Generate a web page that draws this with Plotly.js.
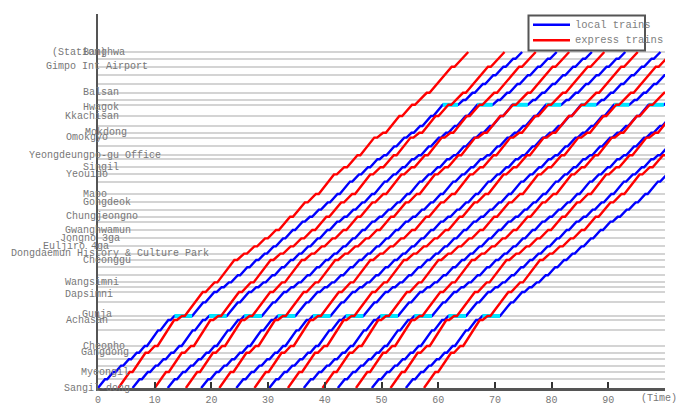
<!DOCTYPE html>
<html>
<head>
<meta charset="utf-8">
<script src="https://cdn.plot.ly/plotly-3.0.1.min.js"></script>
<style>html,body{margin:0;padding:0;background:#fff;}#chart{width:678px;height:409px;}</style>
</head>
<body>
<div id="chart"></div>
<script>
// Stations, bottom (Sangil-dong) to top (Banghwa), with position along the line
const stationNames = ["Sangil-dong","Godeok","Myeongil","Gubeundari","Gil-dong","Gangdong","Cheonho","Gwangnaru","Achasan","Gunja","Janghanpyeong","Dapsimni","Majang","Wangsimni","Haengdang","Singeumho","Cheonggu","Dongdaemun History & Culture Park","Euljiro 4ga","Jongno 3ga","Gwanghwamun","Seodaemun","Chungjeongno","Aeogae","Gongdeok","Mapo","Yeouinaru","Yeouido","Singil","Yeongdeungpo Market","Yeongdeungpo-gu Office","Yangpyeong","Omokgyo","Mokdong","Sinjeong","Kkachisan","Hwagok","Ubjangsan","Balsan","Magok","Songjeong","Gimpo Int Airport","Gaehwasan","Banghwa"];
const stationPos = [0,1.1,2.0,2.8,3.6,4.4,5.25,7.2,8.5,9.0,10.7,12.0,12.6,13.2,14.1,15.1,16.0,16.8,17.7,18.7,19.75,20.8,21.4,22.3,23.2,24.25,25.8,26.7,27.6,28.6,29.1,30.2,31.3,31.9,32.75,34.0,35.4,36.0,36.9,38.0,39.1,40.16,41.16,42.0];

// Local train timetable (minutes after departure): arrival / departure at every station
const localArr = [0,1.23,2.69,4.07,5.45,6.83,8.25,10.6,12.4,13.5,18.55,20.52,21.80,23.08,24.66,26.33,27.91,29.39,30.97,32.64,34.36,36.08,37.36,38.94,40.52,42.24,44.45,46.03,47.61,49.28,50.47,52.24,54.01,55.29,56.82,58.74,60.8,64.42,66.05,67.88,69.71,71.50,73.23,74.8];
const localDep = [0,1.63,3.09,4.47,5.85,7.23,8.65,11.0,12.8,16.6,18.95,20.92,22.20,23.48,25.06,26.73,28.31,29.79,31.37,33.04,34.76,36.48,37.76,39.34,40.92,42.64,44.85,46.43,48.01,49.68,50.87,52.64,54.41,55.69,57.22,59.14,63.5,64.82,66.45,68.28,70.11,71.90,73.63,74.8];

// Express train stops (also the labelled stations) and timetable
const expressStops = ["Sangil-dong","Myeongil","Gangdong","Cheonho","Achasan","Gunja","Dapsimni","Wangsimni","Cheonggu","Dongdaemun History & Culture Park","Euljiro 4ga","Jongno 3ga","Gwanghwamun","Chungjeongno","Gongdeok","Mapo","Yeouido","Singil","Yeongdeungpo-gu Office","Omokgyo","Mokdong","Kkachisan","Hwagok","Balsan","Gimpo Int Airport","Banghwa"];
const expressArr = [0,1.99,4.78,6.41,9.83,11.20,14.88,16.95,20.45,22.17,23.97,25.86,27.80,30.28,32.89,34.83,38.02,39.82,42.16,45.13,46.67,49.55,51.80,54.37,58.78,61.70];
const expressDep = [0,2.49,5.28,6.91,10.33,11.70,15.38,17.45,20.95,22.67,24.47,26.36,28.30,30.78,33.39,35.33,38.52,40.32,42.66,45.63,47.17,50.05,52.30,54.87,59.28,61.70];

// Departure times from Sangil-dong
const localStarts = [0,6.1,12.3,18.2,24.4,30.2,36.3,42.3,48.3,54.3];
const expressStarts = [3.6,10.0,15.5,21.4,27.6,33.5,39.6,45.5,51.6,57.5];

// Stations where local trains wait to be overtaken
const passingStations = ["Gunja","Hwagok"];

const xTicks = [0,10,20,30,40,50,60,70,80,90];
const legendNames = ["local trains","express trains"];

// --- styling: label pixel nudges as placed in the reference ---
const labelShiftX = {"Banghwa":5.5,"Gimpo Int Airport":-1,"Balsan":3,"Hwagok":3,"Kkachisan":-6,"Mokdong":7.5,"Omokgyo":-11,
  "Yeongdeungpo-gu Office":-3.5,"Singil":3,"Yeouido":-11.5,"Mapo":-3.5,"Gongdeok":9,"Chungjeongno":3.5,"Gwanghwamun":0,
  "Jongno 3ga":-8.5,"Euljiro 4ga":-22.5,"Dongdaemun History & Culture Park":11.5,"Cheonggu":9,"Wangsimni":-6,"Dapsimni":-9,
  "Gunja":-1,"Achasan":-11.5,"Cheonho":5.5,"Gangdong":7,"Myeongil":6.5,"Sangil-dong":-1.5};
const labelShiftY = {"Hwagok":-3,"Gunja":2,"Dapsimni":-2};

const posOf = {};
stationNames.forEach((n,i)=>{posOf[n]=stationPos[i];});

function buildTrains(starts, stops, arr, dep){
  const xs=[], ys=[];
  starts.forEach(s=>{
    stops.forEach((name,i)=>{
      xs.push(s+arr[i]); ys.push(posOf[name]);
      if(dep[i]!==arr[i]){ xs.push(s+dep[i]); ys.push(posOf[name]); }
    });
    xs.push(null); ys.push(null);
  });
  return {xs, ys};
}

const loc = buildTrains(localStarts, stationNames, localArr, localDep);
const exp = buildTrains(expressStarts, expressStops, expressArr, expressDep);

const cx=[], cy=[];
localStarts.forEach(s=>{
  passingStations.forEach(name=>{
    const i = stationNames.indexOf(name);
    cx.push(s+localArr[i], s+localDep[i], null);
    cy.push(stationPos[i], stationPos[i], null);
  });
});

const monoFont = "Liberation Mono, Courier New, monospace";
const BLUE='#0000ff', RED='#ff0000';

const traces = [
  {x:loc.xs, y:loc.ys, mode:'lines', name:legendNames[0], showlegend:false, line:{color:BLUE, width:2.4}, connectgaps:false, hoverinfo:'skip'},
  {x:cx, y:cy, mode:'lines', name:'wait', showlegend:false, line:{color:'#00e5ff', width:4}, connectgaps:false, hoverinfo:'skip'},
  {x:exp.xs, y:exp.ys, mode:'lines', name:legendNames[1], showlegend:false, line:{color:RED, width:2.4}, connectgaps:false, hoverinfo:'skip'}
];

const labelFont = {family:monoFont, size:10, color:'#777'};
const annotations = expressStops.map(name=>({
  x:0, y:posOf[name], xref:'x', yref:'y', text:name, showarrow:false,
  xanchor:'center', yanchor:'middle', xshift:labelShiftX[name]||0, yshift:labelShiftY[name]||0, font:labelFont
}));
annotations.push({x:0, y:posOf["Banghwa"], xref:'x', yref:'y', text:'(Station)', showarrow:false,
  xanchor:'center', yanchor:'middle', xshift:-19.5, font:labelFont});
annotations.push({x:98.9, y:0, xref:'x', yref:'paper', text:'(Time)', showarrow:false,
  xanchor:'center', yanchor:'top', yshift:-3, font:labelFont});

// Hand-drawn legend box (paper coordinates of the plot area: 98..665 px, 14..388 px)
const W=567, H=374, L=98, T=14;
const px=v=>(v-L)/W, py=v=>1-(v-T)/H;
const legendFont = {family:monoFont, size:10.5, color:'#808080'};
const shapes = [
  {type:'rect', xref:'paper', yref:'paper', x0:px(528.5), x1:px(645), y0:py(15.5), y1:py(50.5),
   fillcolor:'#fff', line:{color:'#555', width:2}, layer:'above'},
  {type:'line', xref:'paper', yref:'paper', x0:px(533), x1:px(570), y0:py(24.7), y1:py(24.7), line:{color:BLUE, width:2.4}, layer:'above'},
  {type:'line', xref:'paper', yref:'paper', x0:px(533), x1:px(570), y0:py(40.3), y1:py(40.3), line:{color:RED, width:2.4}, layer:'above'}
];
annotations.push({x:px(573), y:py(24.7), xref:'paper', yref:'paper', text:legendNames[0], showarrow:false,
  xanchor:'left', yanchor:'middle', font:legendFont});
annotations.push({x:px(573), y:py(40.3), xref:'paper', yref:'paper', text:legendNames[1], showarrow:false,
  xanchor:'left', yanchor:'middle', font:legendFont});

const layout = {
  width:678, height:409,
  margin:{l:98, r:13, t:14, b:21},
  paper_bgcolor:'#fff', plot_bgcolor:'#fff',
  showlegend:false,
  xaxis:{range:[0,100], showline:true, linecolor:'#555', linewidth:2.5, ticks:'inside', ticklen:6, tickwidth:2,
    tickcolor:'#333', tickvals:xTicks, showgrid:false, zeroline:false,
    tickfont:{family:monoFont, size:10, color:'#777'}},
  yaxis:{range:[0,46.75], showline:true, linecolor:'#555', linewidth:2.5, ticks:'', tickvals:stationPos,
    showticklabels:false, showgrid:true, gridcolor:'#d4d4d4', gridwidth:2, zeroline:false},
  shapes:shapes,
  annotations:annotations
};

Plotly.newPlot('chart', traces, layout, {displayModeBar:false, staticPlot:true});
</script>
</body>
</html>
